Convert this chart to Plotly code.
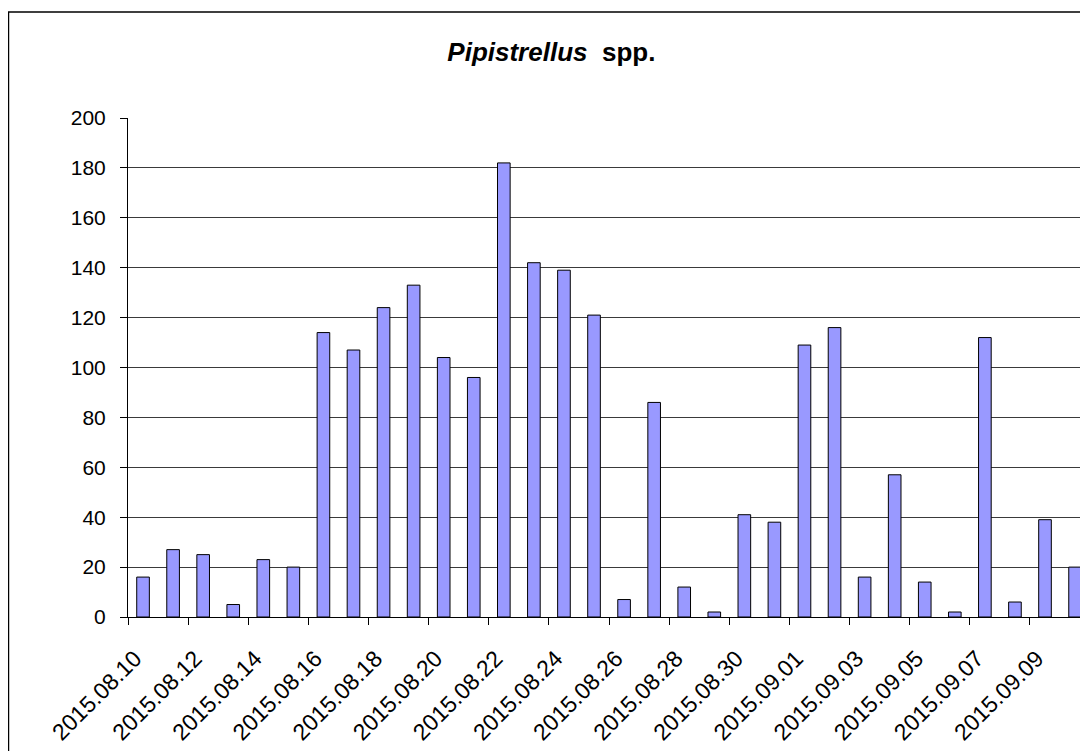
import plotly.graph_objects as go

dates = ["2015.08.10", "2015.08.11", "2015.08.12", "2015.08.13", "2015.08.14", "2015.08.15",
         "2015.08.16", "2015.08.17", "2015.08.18", "2015.08.19", "2015.08.20", "2015.08.21",
         "2015.08.22", "2015.08.23", "2015.08.24", "2015.08.25", "2015.08.26", "2015.08.27",
         "2015.08.28", "2015.08.29", "2015.08.30", "2015.08.31", "2015.09.01", "2015.09.02",
         "2015.09.03", "2015.09.04", "2015.09.05", "2015.09.06", "2015.09.07", "2015.09.08",
         "2015.09.09", "2015.09.10"]
counts = [16, 27, 25, 5, 23, 20, 114, 107, 124, 133, 104, 96, 182, 142, 139, 121,
          7, 86, 12, 2, 41, 38, 109, 116, 16, 57, 14, 2, 112, 6, 39, 20]
y_ticks = [0, 20, 40, 60, 80, 100, 120, 140, 160, 180, 200]

idx = list(range(len(dates)))
label_idx = idx[::2]
label_txt = [dates[i] for i in label_idx]
boundaries = [i - 0.5 for i in label_idx]

FONT = "Liberation Sans, Arial, sans-serif"

fig = go.Figure()
fig.add_trace(go.Bar(
    x=idx, y=counts,
    marker=dict(color="#9999FF", line=dict(color="#000000", width=1)),
    width=0.42,
    hoverinfo="x+y",
))

fig.update_layout(
    width=1080, height=743,
    margin=dict(l=120, r=0, t=110, b=134),
    paper_bgcolor="white", plot_bgcolor="white",
    showlegend=False,
    font=dict(family=FONT, size=21, color="black"),
    title=dict(
        text="<b><i>Pipistrellus</i>  spp.</b>",
        x=0.441, xref="paper", xanchor="center",
        y=1 - 44 / 743, yref="container", yanchor="middle",
        font=dict(size=26, family=FONT, color="black"),
    ),
    xaxis=dict(
        range=[-0.5, 31.43],
        tickmode="array", tickvals=label_idx, ticktext=label_txt,
        tickangle=-45, ticks="",
        showgrid=False, zeroline=False,
        showline=True, linecolor="black", linewidth=1,
        tickfont=dict(size=23),
        ticklabelstandoff=18, ticklabelshift=-8,
        minor=dict(tickmode="array", tickvals=boundaries, ticks="outside",
                   ticklen=7, tickcolor="black", showgrid=False),
    ),
    yaxis=dict(
        range=[0, 200],
        tickmode="array", tickvals=y_ticks,
        ticks="outside", ticklen=7, tickcolor="black",
        showgrid=True, gridcolor="#3a3a3a", gridwidth=1,
        zeroline=False,
        showline=True, linecolor="black", linewidth=1,
        tickfont=dict(size=21),
        ticklabelstandoff=10,
    ),
    shapes=[dict(type="rect", xref="paper", yref="paper",
                 x0=-0.1245, y0=-0.3, x1=1.1, y1=1.2124,
                 line=dict(color="black", width=1.5), fillcolor="rgba(0,0,0,0)",
                 layer="below")],
)

fig.write_html("out.html")
